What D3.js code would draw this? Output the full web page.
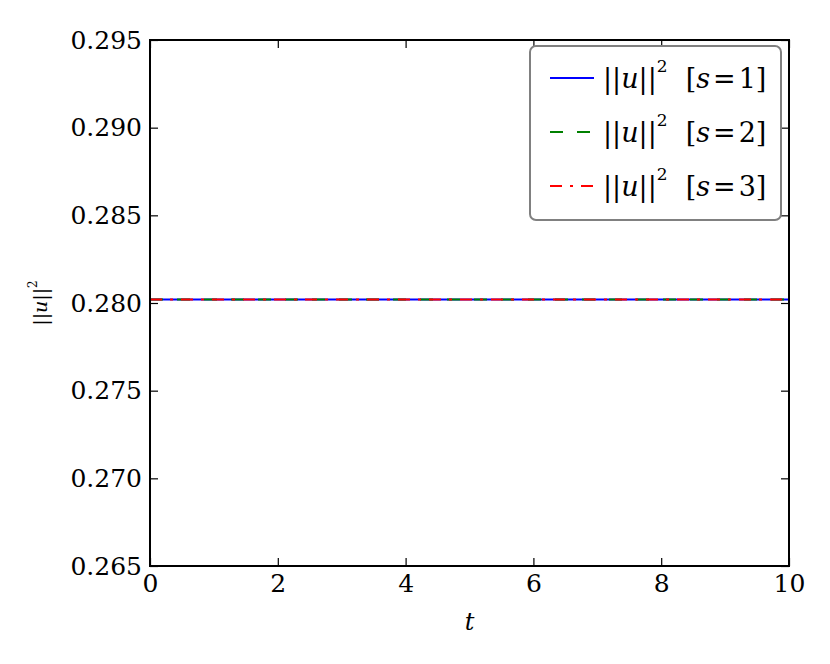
<!DOCTYPE html>
<html>
<head>
<meta charset="utf-8">
<script src="https://cdn.jsdelivr.net/npm/d3@7"></script>
<style>
  body { margin: 0; background: white; }
  text { font-family: "DejaVu Serif", serif; }
</style>
</head>
<body>
<div id="chart"></div>
<script>
// data
let tValues = [0, 1, 2, 3, 4, 5, 6, 7, 8, 9, 10];
let normS1 = [0.2802, 0.2802, 0.2802, 0.2802, 0.2802, 0.2802, 0.2802, 0.2802, 0.2802, 0.2802, 0.2802];
let normS2 = [0.2802, 0.2802, 0.2802, 0.2802, 0.2802, 0.2802, 0.2802, 0.2802, 0.2802, 0.2802, 0.2802];
let normS3 = [0.2802, 0.2802, 0.2802, 0.2802, 0.2802, 0.2802, 0.2802, 0.2802, 0.2802, 0.2802, 0.2802];
let seriesLabels = ["1", "2", "3"];
let xTicks = [0, 2, 4, 6, 8, 10];
let yTicks = [0.265, 0.270, 0.275, 0.280, 0.285, 0.290, 0.295];

let margin = {top: 40, left: 150, right: 41, bottom: 98},
  width = 830 - margin.left - margin.right,
  height = 664 - margin.top - margin.bottom;

let svg = d3.select('#chart')
  .append('svg')
  .attr('width', 830)
  .attr('height', 664);

let g = svg.append('g')
  .attr('transform', 'translate(' + margin.left + ',' + margin.top + ')');

let xScale = d3.scaleLinear().domain([0, 10]).range([0, width]);
let yScale = d3.scaleLinear().domain([0.265, 0.295]).range([height, 0]);

// lines
let series = [
  {vals: normS1, color: 'blue', dash: null},
  {vals: normS2, color: 'green', dash: '13,14'},
  {vals: normS3, color: 'red', dash: '12,8,3,8'}
];

let line = d3.line()
  .x(d => xScale(d[0]))
  .y(d => yScale(d[1]));

series.forEach(function(s) {
  g.append('path')
    .datum(tValues.map((t, i) => [t, s.vals[i]]))
    .attr('d', line)
    .attr('fill', 'none')
    .attr('stroke', s.color)
    .attr('stroke-width', 2)
    .attr('stroke-dasharray', s.dash);
});

// axes with inward ticks, mirrored on top and right
let fmtY = d3.format('.3f');
let bottomAxis = d3.axisBottom(xScale).tickValues(xTicks).tickSizeInner(-8).tickSizeOuter(0).tickPadding(14);
let leftAxis = d3.axisLeft(yScale).tickValues(yTicks).tickFormat(fmtY).tickSizeInner(-8).tickSizeOuter(0).tickPadding(14);
let topAxis = d3.axisTop(xScale).tickValues(xTicks).tickSizeInner(-8).tickSizeOuter(0).tickFormat('');
let rightAxis = d3.axisRight(yScale).tickValues(yTicks).tickSizeInner(-8).tickSizeOuter(0).tickFormat('');

let gx = g.append('g').attr('transform', 'translate(0,' + height + ')').call(bottomAxis);
let gy = g.append('g').call(leftAxis);
let gt = g.append('g').call(topAxis);
let gr = g.append('g').attr('transform', 'translate(' + width + ',0)').call(rightAxis);

[gx, gy, gt, gr].forEach(function(a) {
  a.select('.domain').remove();
  a.selectAll('.tick line').attr('stroke', 'black').attr('stroke-width', 1.2);
  a.selectAll('.tick text')
    .attr('font-size', 25)
    .attr('fill', 'black');
});
gx.selectAll('.tick text').attr('dy', '0.71em').attr('y', 8);
gy.selectAll('.tick text').attr('x', -8);

// frame
g.append('rect')
  .attr('width', width)
  .attr('height', height)
  .attr('fill', 'none')
  .attr('stroke', 'black')
  .attr('stroke-width', 2);

// axis labels
svg.append('text')
  .attr('x', margin.left + width / 2)
  .attr('y', 630)
  .attr('text-anchor', 'middle')
  .attr('font-size', 24)
  .attr('font-style', 'italic')
  .text('t');

let ylab = svg.append('text')
  .attr('transform', 'translate(47,' + (margin.top + height / 2) + ') rotate(-90)')
  .attr('text-anchor', 'middle')
  .attr('font-size', 19);
ylab.append('tspan').text('||');
ylab.append('tspan').attr('font-style', 'italic').text('u');
ylab.append('tspan').text('||');
ylab.append('tspan').attr('font-size', 12).attr('dy', -10).text('2');

// legend
let legend = svg.append('g').attr('transform', 'translate(530,46)');
legend.append('rect')
  .attr('width', 251)
  .attr('height', 174)
  .attr('rx', 6)
  .attr('fill', 'white')
  .attr('stroke', '#808080')
  .attr('stroke-width', 2);

series.forEach(function(s, i) {
  let y = 32 + i * 54;
  legend.append('line')
    .attr('x1', 20).attr('x2', 64)
    .attr('y1', y).attr('y2', y)
    .attr('stroke', s.color)
    .attr('stroke-width', 2)
    .attr('stroke-dasharray', s.dash);
  let t = legend.append('text')
    .attr('x', 73)
    .attr('y', y + 10)
    .attr('font-size', 27);
  t.append('tspan').text('||');
  t.append('tspan').attr('font-style', 'italic').text('u');
  t.append('tspan').text('||');
  t.append('tspan').attr('font-size', 17).attr('dy', -16).text('2');
  t.append('tspan').attr('dy', 16).attr('dx', 18).text('[');
  t.append('tspan').attr('font-style', 'italic').text('s');
  t.append('tspan').attr('dx', 3).text('=');
  t.append('tspan').attr('dx', 3).text(seriesLabels[i] + ']');
});
</script>
</body>
</html>
